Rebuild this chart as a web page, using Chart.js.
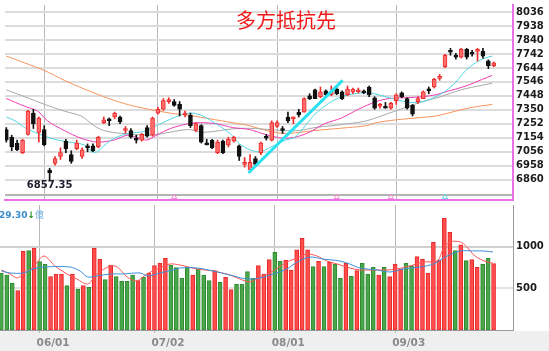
<!DOCTYPE html>
<html>
<head>
<meta charset="utf-8">
<script src="https://cdn.jsdelivr.net/npm/chart.js@4.4.0/dist/chart.umd.min.js"></script>
<style>
html, body { margin: 0; padding: 0; background: #fff; }
#wrap { position: relative; width: 549px; height: 351px; overflow: hidden; }
#band { position: absolute; left: 0; top: 331px; width: 549px; height: 20px; background: #efefef; }
#priceChart { position: absolute; left: 0; top: 0; }
#volChart { position: absolute; left: 0; top: 205px; }
#title { position: absolute; left: 236px; top: 10px; font: 20px/20px "Noto Sans CJK TC", sans-serif; color: #f01818; white-space: nowrap; }
#volLabel { position: absolute; left: -1px; top: 208px; font: bold 9px/11px "DejaVu Sans", sans-serif; color: #3a8ccc; white-space: nowrap; }
#volLabel .arr { color: #1f8f1f; }
#volLabel .unit { color: #6aaee0; font: 9px "Noto Sans CJK TC", sans-serif; }
</style>
</head>
<body>
<div id="wrap">
  <div id="band"></div>
  <canvas id="priceChart" width="549" height="205"></canvas>
  <canvas id="volChart" width="549" height="146"></canvas>
  <div id="title">多方抵抗先</div>
  <div id="volLabel">29.30<span class="arr">↓</span><span class="unit">億</span></div>
</div>
<script>
// month ticks (bar index) and labels
const tickIdx = [7, 28, 50, 72];
const tickLabels = ['06/01', '07/02', '08/01', '09/03'];
const priceTicks = [8036, 7938, 7840, 7742, 7644, 7546, 7448, 7350, 7252, 7154, 7056, 6958, 6860];
const volTicks = [500, 1000];

// daily candles
const openP = [7212, 7158, 7117, 7050, 7178, 7327, 7192, 7212, 6928, 6975,
  7023, 7131, 7036, 7077, 7023, 7097, 7097, 7090, 7260, 7287,
  7300, 7300, 7205, 7205, 7151, 7138, 7226, 7172, 7327, 7354,
  7408, 7408, 7388, 7314, 7314, 7205, 7239, 7117, 7138, 7050,
  7131, 7104, 7131, 7097, 6968, 6928, 7009, 7050, 7158, 7138,
  7233, 7219, 7300, 7287, 7334, 7334, 7449, 7490, 7442, 7483,
  7456, 7496, 7476, 7456, 7476, 7476, 7483, 7510, 7435, 7375,
  7375, 7361, 7415, 7469, 7429, 7381, 7408, 7429, 7490, 7510,
  7571, 7652, 7767, 7733, 7720, 7774, 7754, 7760, 7760, 7693,
  7659];
const highP = [7226, 7172, 7138, 7144, 7347, 7354, 7300, 7239, 6941, 7023,
  7084, 7144, 7063, 7138, 7084, 7111, 7111, 7165, 7300, 7293,
  7334, 7307, 7233, 7219, 7172, 7185, 7239, 7300, 7368, 7429,
  7435, 7422, 7408, 7341, 7327, 7260, 7246, 7144, 7144, 7138,
  7138, 7158, 7165, 7104, 7016, 7036, 7023, 7124, 7178, 7273,
  7273, 7233, 7334, 7300, 7354, 7435, 7463, 7496, 7510, 7490,
  7517, 7510, 7483, 7517, 7503, 7503, 7490, 7517, 7442, 7395,
  7402, 7402, 7463, 7476, 7435, 7388, 7442, 7483, 7510, 7571,
  7598, 7740, 7781, 7747, 7781, 7781, 7767, 7781, 7781, 7700,
  7686];
const lowP = [7124, 7063, 7063, 7043, 7172, 7219, 7124, 7097, 6857.35, 6962,
  7002, 7050, 6975, 7070, 7009, 7056, 7056, 7084, 7253, 7239,
  7287, 7253, 7185, 7151, 7117, 7131, 7158, 7165, 7320, 7347,
  7395, 7375, 7307, 7300, 7226, 7199, 7117, 7104, 7077, 7043,
  7043, 7090, 7124, 6995, 6948, 6914, 6955, 7036, 7138, 7131,
  7226, 7185, 7260, 7253, 7300, 7334, 7422, 7429, 7435, 7449,
  7449, 7456, 7422, 7449, 7463, 7469, 7463, 7442, 7354, 7361,
  7361, 7354, 7388, 7435, 7354, 7307, 7395, 7429, 7463, 7503,
  7557, 7645, 7733, 7706, 7713, 7706, 7727, 7693, 7713, 7639,
  7652];
const closeP = [7138, 7090, 7070, 7138, 7341, 7253, 7293, 7104, 6908, 7009,
  7050, 7077, 6989, 7117, 7070, 7084, 7063, 7158, 7280, 7273,
  7327, 7266, 7219, 7158, 7138, 7178, 7165, 7293, 7354, 7415,
  7422, 7381, 7354, 7327, 7239, 7253, 7124, 7104, 7084, 7124,
  7050, 7144, 7158, 7023, 6982, 6982, 6968, 7117, 7151, 7260,
  7260, 7205, 7273, 7293, 7314, 7429, 7429, 7429, 7476, 7456,
  7476, 7463, 7429, 7496, 7496, 7490, 7469, 7456, 7361, 7388,
  7361, 7395, 7456, 7442, 7361, 7320, 7429, 7476, 7483, 7564,
  7584, 7733, 7754, 7720, 7774, 7720, 7740, 7767, 7727, 7659,
  7679];

// volume (億) and bar colour: 1 = up (red), 0 = down (green)
const volume = [685, 661, 565, 473, 946, 953, 982, 821, 789, 641,
  673, 673, 533, 673, 493, 533, 513, 982, 853, 605,
  781, 641, 585, 585, 661, 593, 637, 685, 773, 805,
  862, 781, 749, 625, 753, 661, 733, 661, 593, 713,
  577, 633, 485, 553, 553, 701, 621, 773, 673, 845,
  934, 826, 841, 721, 962, 1102, 962, 761, 826, 761,
  813, 793, 621, 801, 645, 713, 801, 673, 753, 661,
  753, 641, 793, 733, 801, 773, 881, 853, 685, 1054,
  841, 1346, 1174, 953, 1022, 833, 845, 753, 789, 865,
  797];
const volUp = [0, 0, 0, 1, 1, 0, 1, 0, 0, 1,
  1, 1, 0, 1, 0, 1, 0, 1, 1, 0,
  1, 0, 0, 0, 0, 1, 0, 1, 1, 1,
  1, 0, 0, 0, 0, 1, 0, 0, 0, 1,
  0, 1, 1, 0, 0, 0, 0, 1, 1, 1,
  0, 0, 1, 1, 1, 1, 1, 0, 1, 0,
  1, 0, 0, 1, 0, 1, 0, 0, 0, 1,
  0, 1, 1, 1, 0, 0, 1, 1, 1, 1,
  1, 1, 1, 0, 1, 0, 1, 1, 0, 0,
  1];

// moving averages: [bar index, value]
const maFast = [[0, 7300], [1.6, 7273], [3.4, 7226], [6.2, 7178], [8.9, 7144], [11.6, 7124], [14.4, 7104],
  [15.8, 7056], [16.8, 7056], [18, 7097], [19.9, 7151], [22.6, 7185], [25.4, 7199], [28.1, 7246],
  [30.8, 7293], [32.7, 7320], [34.5, 7327], [36.3, 7307], [38.7, 7253], [41.3, 7185], [43.1, 7111],
  [45, 7070], [46.7, 7056], [48.6, 7084], [49.7, 7104], [51.5, 7138], [53.3, 7158], [55.2, 7239],
  [57, 7320], [59.5, 7395], [61.9, 7442], [64.3, 7463], [67, 7469], [70.7, 7435], [72, 7422],
  [74.4, 7402], [76.9, 7408], [79.3, 7442], [81.1, 7483], [83, 7544], [84.8, 7625], [86.6, 7679],
  [88.4, 7713], [89.7, 7727]];
const maMid = [[0, 7429], [3.4, 7375], [5.8, 7341], [7.6, 7273], [10.7, 7205], [13.8, 7151], [16.8, 7124],
  [19.9, 7138], [22.3, 7172], [24.1, 7158], [25.9, 7138], [27.7, 7172], [30.3, 7219], [33.6, 7253],
  [35.8, 7260], [38.7, 7253], [41.8, 7226], [44.9, 7212], [47.8, 7178], [51, 7151], [53.3, 7158],
  [55.9, 7192], [58.8, 7253], [61.9, 7293], [65, 7354], [68.3, 7408], [70.7, 7429], [73.8, 7435],
  [76.9, 7442], [79.3, 7456], [81.1, 7476], [83, 7496], [85.3, 7523], [87.9, 7564], [89.7, 7591]];
const maSlow = [[0, 7490], [3.4, 7442], [7.1, 7388], [10.7, 7341], [13.8, 7307], [16.2, 7239], [18, 7205],
  [21.2, 7185], [26.6, 7172], [29, 7185], [33.6, 7212], [36.3, 7192], [42.4, 7219], [46, 7219],
  [51, 7205], [54.1, 7205], [57, 7226], [60.1, 7239], [63.2, 7253], [66.5, 7273], [70.7, 7327],
  [73.8, 7368], [76.9, 7408], [80.2, 7442], [83.9, 7490], [87.9, 7523], [89.7, 7537]];
const maLong = [[0, 7727], [3.4, 7679], [7.1, 7625], [10.7, 7557], [14.4, 7496], [18, 7442], [21.7, 7395],
  [25.4, 7361], [30.3, 7327], [34.5, 7307], [37.6, 7287], [41.8, 7260], [44.9, 7239], [47.3, 7212],
  [51, 7185], [54.1, 7192], [57, 7205], [63.2, 7226], [66.5, 7239], [68.3, 7260], [72, 7280],
  [75.6, 7293], [79.3, 7307], [83, 7341], [86.1, 7368], [89.7, 7388]];
const volMaFast = [[0, 721], [1.6, 673], [2.9, 625], [4, 673], [5.8, 757], [7.8, 889], [9.8, 769], [12, 673],
  [13.8, 613], [15.8, 553], [17.5, 673], [19.9, 769], [21.2, 757], [23, 637], [24.8, 589], [26.6, 673],
  [28.5, 733], [30.8, 793], [32.7, 781], [35.8, 733], [38.7, 709], [41.8, 661], [43.6, 613], [45.5, 577],
  [47.3, 637], [49.7, 709], [52.2, 817], [54.1, 865], [55.9, 914], [57.7, 889], [59.5, 829], [61.4, 793],
  [63.7, 745], [65.6, 721], [68, 721], [70.5, 721], [72.3, 733], [74.7, 769], [77.1, 817], [79.7, 829],
  [80.8, 974], [82, 1058], [83.9, 1058], [85.1, 998], [86.6, 889], [88.8, 817], [89.9, 805]];
const volMaSlow = [[0, 709], [1.6, 685], [4, 685], [5.8, 733], [7.8, 757], [12.6, 757], [14.4, 709],
  [15.8, 637], [17.5, 649], [19.9, 673], [22.2, 673], [25.4, 685], [26.8, 649], [29, 685], [31.4, 721],
  [32.7, 745], [35.8, 745], [38.7, 709], [41.8, 661], [44.9, 613], [47.3, 625], [49.7, 673], [52.2, 733],
  [54.1, 817], [56.4, 877], [58.8, 853], [61.9, 829], [63.7, 793], [65.6, 745], [68.7, 721], [71.1, 697],
  [73.4, 733], [76.5, 757], [79, 793], [81.5, 889], [83.9, 950], [86.2, 950], [88.1, 950], [89.9, 938]];

// hand-drawn trend line and signal marks
const trendLine = [[44.7, 6907], [62.1, 7557]];
const signalIdx = [31, 61, 71, 81];
const signalKind = ['sell', 'sell', 'sell', 'buy'];

const X_MIN = -0.24;
const X_MAX = 93.55;
const PRICE_MIN = 6718;
const PRICE_MAX = 8085;
const innerBottom = 6752;
const VOL_MAX = 1502;

const pts = arr => arr.map(([x, y]) => ({ x, y }));
const bars = openP.map((_, i) => i);
const isUp = i => closeP[i] >= openP[i];
const axisFont = { family: 'DejaVu Sans', size: 10, weight: 'bold' };

function fixRightAxis(scale) {
    scale.width = 36;
    scale.paddingTop = 0;
    scale.paddingBottom = 0;
}

function monthTicks(scale) {
    scale.ticks = tickIdx.map(v => ({ value: v }));
}

// label under the lowest low
const lowLabel = {
    id: 'lowLabel',
    afterDatasetsDraw(chart) {
        const i = lowP.indexOf(Math.min(...lowP));
        const x = chart.scales.x.getPixelForValue(i);
        const y = chart.scales.y.getPixelForValue(lowP[i]);
        const ctx = chart.ctx;
        ctx.save();
        ctx.font = 'bold 10px "DejaVu Sans"';
        ctx.fillStyle = '#1c1c2c';
        ctx.textAlign = 'center';
        ctx.textBaseline = 'top';
        ctx.fillText(lowP[i].toFixed(2), x, y);
        ctx.restore();
    }
};

const lineDs = (data, color, order) => ({
    type: 'line', data: pts(data), borderColor: color, borderWidth: 1,
    pointRadius: 0, tension: 0.3, order
});

new Chart(document.getElementById('priceChart'), {
    type: 'bar',
    data: {
        datasets: [
            lineDs(maLong, '#f7945a', 6),
            lineDs(maSlow, '#a8a8a8', 5),
            lineDs(maMid, '#f03cb4', 4),
            lineDs(maFast, '#4fd6e4', 3),
            {
                data: bars.map(i => ({ x: i, y: [lowP[i], highP[i]] })),
                backgroundColor: bars.map(i => isUp(i) ? '#ee2a2a' : '#111111'),
                barThickness: 1, grouped: false, order: 2
            },
            {
                data: bars.map(i => ({ x: i, y: [Math.min(openP[i], closeP[i]), Math.max(openP[i], closeP[i])] })),
                backgroundColor: bars.map(i => isUp(i) ? '#ff6e6e' : '#111111'),
                borderColor: bars.map(i => isUp(i) ? '#ee2a2a' : '#111111'),
                borderWidth: 1, borderSkipped: false, barThickness: 4, minBarLength: 2,
                grouped: false, order: 1
            },
            {
                type: 'line', data: pts(trendLine), borderColor: '#2ae2f2', borderWidth: 3,
                pointRadius: 0, order: 0
            },
            {
                type: 'line', showLine: false, order: 0,
                data: signalIdx.map(i => ({ x: i, y: PRICE_MIN + (PRICE_MAX - PRICE_MIN) * 0.015 })),
                pointStyle: 'triangle', pointRadius: 3, pointBorderWidth: 1,
                pointBackgroundColor: 'rgba(0,0,0,0)',
                pointBorderColor: signalKind.map(k => k === 'buy' ? '#5ad8e0' : '#f58ad0')
            }
        ]
    },
    options: {
        responsive: false,
        animation: false,
        devicePixelRatio: 1,
        layout: { padding: { bottom: 3 } },
        plugins: { legend: { display: false }, tooltip: { enabled: false } },
        scales: {
            x: {
                type: 'linear', min: X_MIN, max: X_MAX, offset: false,
                afterBuildTicks: monthTicks,
                ticks: { display: false },
                grid: { color: '#b8b8b8', lineWidth: 1, drawTicks: false, offset: false },
                border: { color: '#e870e8', width: 2 },
                afterFit: s => { s.height = 0; s.paddingLeft = 0; s.paddingRight = 0; }
            },
            y: {
                position: 'right', min: PRICE_MIN, max: PRICE_MAX,
                afterBuildTicks: s => { s.ticks = [...priceTicks, innerBottom].map(v => ({ value: v })); },
                ticks: {
                    callback: v => v === innerBottom ? '' : String(v),
                    autoSkip: false, font: axisFont, color: '#1a1a1a', padding: 3
                },
                grid: {
                    color: c => c.tick && c.tick.value === innerBottom ? '#b4b4b4' : '#dcdcdc',
                    lineWidth: 2, drawTicks: false
                },
                border: { color: '#e870e8', width: 2 },
                afterFit: fixRightAxis
            }
        }
    },
    plugins: [lowLabel]
});

new Chart(document.getElementById('volChart'), {
    type: 'bar',
    data: {
        datasets: [
            lineDs(volMaSlow, '#3d8fd8', 0),
            lineDs(volMaFast, '#ff5555', 0),
            {
                data: volume.map((v, i) => ({ x: i, y: v })),
                backgroundColor: volUp.map(u => u ? '#ff4c4c' : '#4aa64a'),
                borderColor: volUp.map(u => u ? '#e82828' : '#2f8a2f'),
                borderWidth: 1, borderSkipped: false, barThickness: 4,
                grouped: false, order: 1
            }
        ]
    },
    options: {
        responsive: false,
        animation: false,
        devicePixelRatio: 1,
        plugins: { legend: { display: false }, tooltip: { enabled: false } },
        scales: {
            x: {
                type: 'linear', min: X_MIN, max: X_MAX, offset: false,
                afterBuildTicks: monthTicks,
                ticks: {
                    callback: v => tickLabels[tickIdx.indexOf(v)] || '',
                    align: 'start', labelOffset: -3, padding: 4, autoSkip: false, maxRotation: 0,
                    color: '#8a8a8a', font: { family: 'DejaVu Sans', size: 10.5, weight: 'bold' }
                },
                grid: { color: '#b8b8b8', lineWidth: 1, drawTicks: true, tickLength: 3, offset: false },
                border: { color: '#9a9a9a', width: 1 },
                afterFit: s => { s.height = 21; s.paddingLeft = 0; s.paddingRight = 0; }
            },
            y: {
                position: 'right', min: 0, max: VOL_MAX,
                afterBuildTicks: s => { s.ticks = volTicks.map(v => ({ value: v })); },
                ticks: { callback: v => String(v), autoSkip: false, font: axisFont, color: '#1a1a1a', padding: 3 },
                grid: {
                    color: c => c.tick && c.tick.value === 500 ? '#e2e2e2' : '#d0d0d0',
                    lineWidth: 2, drawTicks: false
                },
                border: { color: '#9a9a9a', width: 1 },
                afterFit: fixRightAxis
            }
        }
    }
});
</script>
</body>
</html>
